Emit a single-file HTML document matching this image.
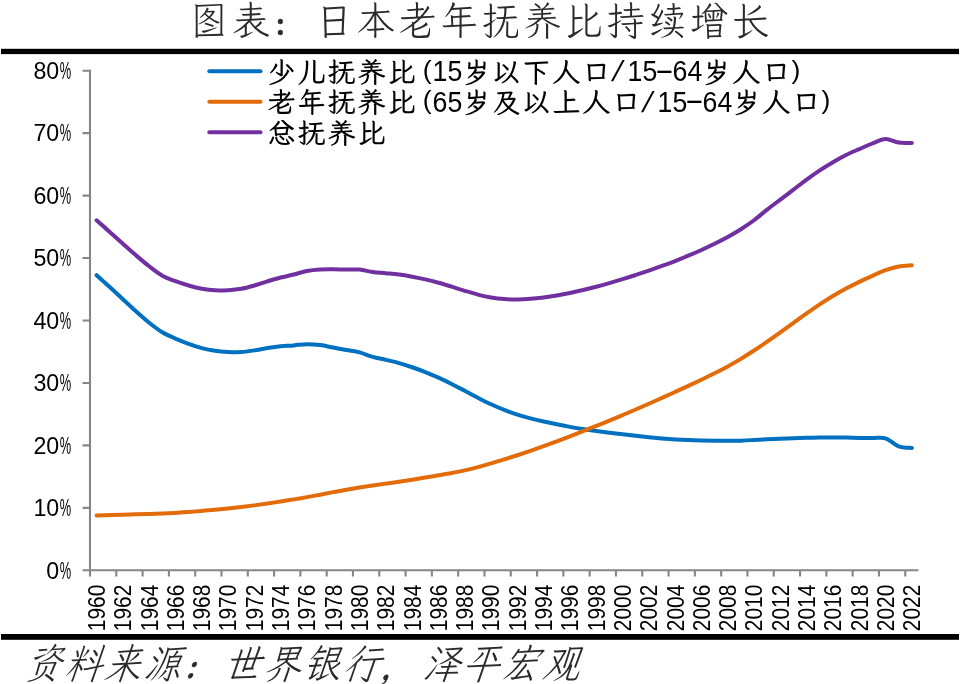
<!DOCTYPE html>
<html lang="zh-CN">
<head>
<meta charset="utf-8">
<title>图表：日本老年抚养比持续增长</title>
<style>
html,body{margin:0;padding:0;background:#fff;}
body{width:960px;height:684px;position:relative;overflow:hidden;font-family:"Liberation Sans","Noto Sans CJK SC",sans-serif;}
.kai{font-family:"Liberation Serif","LXGW WenKai TC","Noto Serif CJK SC",serif;}
.p{line-height:0;font-family:"Liberation Serif","Noto Serif CJK SC","Noto Sans CJK SC",serif;font-weight:700;position:relative;font-size:0.7em;-webkit-text-stroke:0.4px currentColor;}
#title .p{left:0px;top:1px;margin-right:11.4px;}
#src .p{left:0px;top:1px;margin-right:11.1px;}
#title{transform:scaleY(1.06);transform-origin:0 26.5px;position:absolute;left:190px;top:-6px;font-size:38px;letter-spacing:3.65px;line-height:54px;color:#2a2a2a;font-weight:300;white-space:nowrap;}
.leg{position:absolute;left:267.5px;height:31px;line-height:31px;font-size:28px;letter-spacing:2px;color:#000;white-space:nowrap;font-weight:600;}
.leg .h{top:-0.5px;font-weight:400;display:inline-block;width:15px;letter-spacing:0;text-align:center;font-family:"Liberation Sans",sans-serif;font-size:29px;line-height:31px;vertical-align:baseline;position:relative;transform:scaleX(0.92);}
.leg .lt{margin-left:-1px;margin-right:1px;letter-spacing:0;}
.leg .h.r{text-align:right;font-size:26.5px;top:-3px;transform:none;}
.leg .h.l{text-align:left;font-size:26.5px;top:-3px;transform:none;}
.leg .h.s{transform:skewX(-15deg);left:-1.5px;}
.leg .h.d{transform:scaleX(2);top:-2px;}
#l1{top:56.5px;}
#l2{top:87px;}
#l3{top:117.5px;}
#src{position:absolute;left:23px;top:642px;font-size:37px;letter-spacing:2.8px;line-height:48px;color:#2a2a2a;font-weight:300;white-space:nowrap;transform:skewX(-19deg) scaleY(1.12);transform-origin:0 38px;}
</style>
</head>
<body>
<div id="title" class="kai">图表<span class="p">：</span>日本老年抚养比持续增长</div>
<svg width="960" height="684" viewBox="0 0 960 684" style="position:absolute;left:0;top:0">
<rect x="1" y="48.8" width="958" height="5.3" fill="#000"/>
<rect x="1" y="634" width="958" height="5.8" fill="#000"/>
<g stroke="#868686" stroke-width="2.1" fill="none">
<path d="M90.00 69.80 V576.50"/>
<path d="M82.50 570.30 H918.40"/>
<path d="M82.50 507.85 H90.00M82.50 445.40 H90.00M82.50 382.95 H90.00M82.50 320.50 H90.00M82.50 258.05 H90.00M82.50 195.60 H90.00M82.50 133.15 H90.00M82.50 70.70 H90.00M116.30 570.30 V576.50M142.60 570.30 V576.50M168.90 570.30 V576.50M195.19 570.30 V576.50M221.49 570.30 V576.50M247.79 570.30 V576.50M274.09 570.30 V576.50M300.39 570.30 V576.50M326.69 570.30 V576.50M352.98 570.30 V576.50M379.28 570.30 V576.50M405.58 570.30 V576.50M431.88 570.30 V576.50M458.18 570.30 V576.50M484.48 570.30 V576.50M510.77 570.30 V576.50M537.07 570.30 V576.50M563.37 570.30 V576.50M589.67 570.30 V576.50M615.97 570.30 V576.50M642.27 570.30 V576.50M668.57 570.30 V576.50M694.86 570.30 V576.50M721.16 570.30 V576.50M747.46 570.30 V576.50M773.76 570.30 V576.50M800.06 570.30 V576.50M826.36 570.30 V576.50M852.65 570.30 V576.50M878.95 570.30 V576.50M905.25 570.30 V576.50"/>
</g>
<g font-family="'Liberation Sans', sans-serif" font-size="23.2" fill="#000">
<text x="59.2" y="578.60" text-anchor="end">0</text>
<text x="59.8" y="578.60" textLength="11.4" lengthAdjust="spacingAndGlyphs">%</text>
<text x="59.2" y="516.15" text-anchor="end">10</text>
<text x="59.8" y="516.15" textLength="11.4" lengthAdjust="spacingAndGlyphs">%</text>
<text x="59.2" y="453.70" text-anchor="end">20</text>
<text x="59.8" y="453.70" textLength="11.4" lengthAdjust="spacingAndGlyphs">%</text>
<text x="59.2" y="391.25" text-anchor="end">30</text>
<text x="59.8" y="391.25" textLength="11.4" lengthAdjust="spacingAndGlyphs">%</text>
<text x="59.2" y="328.80" text-anchor="end">40</text>
<text x="59.8" y="328.80" textLength="11.4" lengthAdjust="spacingAndGlyphs">%</text>
<text x="59.2" y="266.35" text-anchor="end">50</text>
<text x="59.8" y="266.35" textLength="11.4" lengthAdjust="spacingAndGlyphs">%</text>
<text x="59.2" y="203.90" text-anchor="end">60</text>
<text x="59.8" y="203.90" textLength="11.4" lengthAdjust="spacingAndGlyphs">%</text>
<text x="59.2" y="141.45" text-anchor="end">70</text>
<text x="59.8" y="141.45" textLength="11.4" lengthAdjust="spacingAndGlyphs">%</text>
<text x="59.2" y="79.00" text-anchor="end">80</text>
<text x="59.8" y="79.00" textLength="11.4" lengthAdjust="spacingAndGlyphs">%</text>
</g>
<g font-family="'Liberation Sans', sans-serif" font-size="23.2" fill="#000">
<text transform="translate(104.97 584.6) rotate(-90)" text-anchor="end" textLength="46.6" lengthAdjust="spacingAndGlyphs">1960</text>
<text transform="translate(131.27 584.6) rotate(-90)" text-anchor="end" textLength="46.6" lengthAdjust="spacingAndGlyphs">1962</text>
<text transform="translate(157.57 584.6) rotate(-90)" text-anchor="end" textLength="46.6" lengthAdjust="spacingAndGlyphs">1964</text>
<text transform="translate(183.87 584.6) rotate(-90)" text-anchor="end" textLength="46.6" lengthAdjust="spacingAndGlyphs">1966</text>
<text transform="translate(210.17 584.6) rotate(-90)" text-anchor="end" textLength="46.6" lengthAdjust="spacingAndGlyphs">1968</text>
<text transform="translate(236.47 584.6) rotate(-90)" text-anchor="end" textLength="46.6" lengthAdjust="spacingAndGlyphs">1970</text>
<text transform="translate(262.77 584.6) rotate(-90)" text-anchor="end" textLength="46.6" lengthAdjust="spacingAndGlyphs">1972</text>
<text transform="translate(289.06 584.6) rotate(-90)" text-anchor="end" textLength="46.6" lengthAdjust="spacingAndGlyphs">1974</text>
<text transform="translate(315.36 584.6) rotate(-90)" text-anchor="end" textLength="46.6" lengthAdjust="spacingAndGlyphs">1976</text>
<text transform="translate(341.66 584.6) rotate(-90)" text-anchor="end" textLength="46.6" lengthAdjust="spacingAndGlyphs">1978</text>
<text transform="translate(367.96 584.6) rotate(-90)" text-anchor="end" textLength="46.6" lengthAdjust="spacingAndGlyphs">1980</text>
<text transform="translate(394.26 584.6) rotate(-90)" text-anchor="end" textLength="46.6" lengthAdjust="spacingAndGlyphs">1982</text>
<text transform="translate(420.56 584.6) rotate(-90)" text-anchor="end" textLength="46.6" lengthAdjust="spacingAndGlyphs">1984</text>
<text transform="translate(446.85 584.6) rotate(-90)" text-anchor="end" textLength="46.6" lengthAdjust="spacingAndGlyphs">1986</text>
<text transform="translate(473.15 584.6) rotate(-90)" text-anchor="end" textLength="46.6" lengthAdjust="spacingAndGlyphs">1988</text>
<text transform="translate(499.45 584.6) rotate(-90)" text-anchor="end" textLength="46.6" lengthAdjust="spacingAndGlyphs">1990</text>
<text transform="translate(525.75 584.6) rotate(-90)" text-anchor="end" textLength="46.6" lengthAdjust="spacingAndGlyphs">1992</text>
<text transform="translate(552.05 584.6) rotate(-90)" text-anchor="end" textLength="46.6" lengthAdjust="spacingAndGlyphs">1994</text>
<text transform="translate(578.35 584.6) rotate(-90)" text-anchor="end" textLength="46.6" lengthAdjust="spacingAndGlyphs">1996</text>
<text transform="translate(604.64 584.6) rotate(-90)" text-anchor="end" textLength="46.6" lengthAdjust="spacingAndGlyphs">1998</text>
<text transform="translate(630.94 584.6) rotate(-90)" text-anchor="end" textLength="46.6" lengthAdjust="spacingAndGlyphs">2000</text>
<text transform="translate(657.24 584.6) rotate(-90)" text-anchor="end" textLength="46.6" lengthAdjust="spacingAndGlyphs">2002</text>
<text transform="translate(683.54 584.6) rotate(-90)" text-anchor="end" textLength="46.6" lengthAdjust="spacingAndGlyphs">2004</text>
<text transform="translate(709.84 584.6) rotate(-90)" text-anchor="end" textLength="46.6" lengthAdjust="spacingAndGlyphs">2006</text>
<text transform="translate(736.14 584.6) rotate(-90)" text-anchor="end" textLength="46.6" lengthAdjust="spacingAndGlyphs">2008</text>
<text transform="translate(762.43 584.6) rotate(-90)" text-anchor="end" textLength="46.6" lengthAdjust="spacingAndGlyphs">2010</text>
<text transform="translate(788.73 584.6) rotate(-90)" text-anchor="end" textLength="46.6" lengthAdjust="spacingAndGlyphs">2012</text>
<text transform="translate(815.03 584.6) rotate(-90)" text-anchor="end" textLength="46.6" lengthAdjust="spacingAndGlyphs">2014</text>
<text transform="translate(841.33 584.6) rotate(-90)" text-anchor="end" textLength="46.6" lengthAdjust="spacingAndGlyphs">2016</text>
<text transform="translate(867.63 584.6) rotate(-90)" text-anchor="end" textLength="46.6" lengthAdjust="spacingAndGlyphs">2018</text>
<text transform="translate(893.93 584.6) rotate(-90)" text-anchor="end" textLength="46.6" lengthAdjust="spacingAndGlyphs">2020</text>
<text transform="translate(920.23 584.6) rotate(-90)" text-anchor="end" textLength="46.6" lengthAdjust="spacingAndGlyphs">2022</text>
</g>
<g fill="none" stroke-width="4" stroke-linecap="round" stroke-linejoin="round">
<path stroke="#0070C0" d="M96.57 275.18 C98.77 277.17 105.34 283.09 109.72 287.10 C114.11 291.11 118.49 295.19 122.87 299.23 C127.26 303.27 131.64 307.44 136.02 311.35 C140.41 315.26 144.79 319.21 149.17 322.71 C153.55 326.20 157.94 329.67 162.32 332.31 C166.70 334.96 171.09 336.65 175.47 338.58 C179.85 340.50 184.24 342.27 188.62 343.86 C193.00 345.45 197.39 346.97 201.77 348.12 C206.15 349.28 210.53 350.16 214.92 350.79 C219.30 351.43 223.68 351.72 228.07 351.92 C232.45 352.13 236.83 352.30 241.22 352.04 C245.60 351.78 249.98 351.04 254.37 350.37 C258.75 349.71 263.13 348.74 267.51 348.07 C271.90 347.40 276.28 346.77 280.66 346.33 C285.05 345.89 289.43 345.78 293.81 345.41 C298.20 345.05 302.58 344.21 306.96 344.15 C311.34 344.08 315.73 344.47 320.11 345.03 C324.49 345.59 328.88 346.67 333.26 347.51 C337.64 348.35 342.03 349.24 346.41 350.06 C350.79 350.88 355.18 351.29 359.56 352.43 C363.94 353.57 368.32 355.65 372.71 356.90 C377.09 358.14 381.47 358.86 385.86 359.89 C390.24 360.92 394.62 361.85 399.01 363.08 C403.39 364.31 407.77 365.76 412.16 367.26 C416.54 368.76 420.92 370.35 425.30 372.08 C429.69 373.82 434.07 375.71 438.45 377.69 C442.84 379.67 447.22 381.79 451.60 383.98 C455.99 386.16 460.37 388.49 464.75 390.78 C469.14 393.08 473.52 395.49 477.90 397.74 C482.28 399.99 486.67 402.26 491.05 404.30 C495.43 406.34 499.82 408.26 504.20 409.97 C508.58 411.69 512.97 413.19 517.35 414.58 C521.73 415.97 526.12 417.17 530.50 418.33 C534.88 419.48 539.26 420.51 543.65 421.51 C548.03 422.51 552.41 423.43 556.80 424.32 C561.18 425.22 565.56 426.06 569.95 426.86 C574.33 427.66 578.71 428.41 583.10 429.10 C587.48 429.80 591.86 430.43 596.24 431.03 C600.63 431.64 605.01 432.20 609.39 432.75 C613.78 433.30 618.16 433.83 622.54 434.33 C626.93 434.84 631.31 435.32 635.69 435.79 C640.08 436.26 644.46 436.73 648.84 437.17 C653.22 437.60 657.61 438.03 661.99 438.41 C666.37 438.78 670.76 439.12 675.14 439.40 C679.52 439.69 683.91 439.91 688.29 440.10 C692.67 440.29 697.06 440.42 701.44 440.53 C705.82 440.64 710.20 440.71 714.59 440.77 C718.97 440.83 723.35 440.88 727.74 440.86 C732.12 440.84 736.50 440.79 740.89 440.64 C745.27 440.50 749.65 440.23 754.03 439.99 C758.42 439.76 762.80 439.46 767.18 439.23 C771.57 439.01 775.95 438.83 780.33 438.65 C784.72 438.48 789.10 438.34 793.48 438.20 C797.87 438.06 802.25 437.93 806.63 437.82 C811.01 437.71 815.40 437.59 819.78 437.53 C824.16 437.46 828.55 437.41 832.93 437.40 C837.31 437.40 841.70 437.44 846.08 437.52 C850.46 437.60 854.85 437.80 859.23 437.88 C863.61 437.96 867.99 437.93 872.38 438.00 C876.76 438.07 881.14 436.91 885.53 438.30 C889.91 439.69 894.29 444.70 898.68 446.32 C903.06 447.93 909.63 447.72 911.83 448.00"/>
<path stroke="#E36C0A" d="M96.57 515.43 C98.77 515.38 105.34 515.21 109.72 515.10 C114.11 514.98 118.49 514.85 122.87 514.72 C127.26 514.59 131.64 514.44 136.02 514.31 C140.41 514.18 144.79 514.07 149.17 513.94 C153.55 513.81 157.94 513.72 162.32 513.55 C166.70 513.37 171.09 513.15 175.47 512.88 C179.85 512.61 184.24 512.27 188.62 511.94 C193.00 511.61 197.39 511.26 201.77 510.90 C206.15 510.54 210.53 510.19 214.92 509.78 C219.30 509.38 223.68 508.95 228.07 508.48 C232.45 508.02 236.83 507.52 241.22 507.00 C245.60 506.48 249.98 505.94 254.37 505.36 C258.75 504.77 263.13 504.16 267.51 503.52 C271.90 502.88 276.28 502.20 280.66 501.51 C285.05 500.82 289.43 500.11 293.81 499.38 C298.20 498.64 302.58 497.89 306.96 497.10 C311.34 496.32 315.73 495.48 320.11 494.66 C324.49 493.83 328.88 492.96 333.26 492.15 C337.64 491.33 342.03 490.53 346.41 489.76 C350.79 488.99 355.18 488.25 359.56 487.55 C363.94 486.84 368.32 486.16 372.71 485.51 C377.09 484.85 381.47 484.25 385.86 483.62 C390.24 482.99 394.62 482.37 399.01 481.72 C403.39 481.07 407.77 480.40 412.16 479.70 C416.54 479.01 420.92 478.28 425.30 477.55 C429.69 476.82 434.07 476.08 438.45 475.31 C442.84 474.55 447.22 473.81 451.60 472.98 C455.99 472.15 460.37 471.30 464.75 470.33 C469.14 469.36 473.52 468.30 477.90 467.15 C482.28 466.00 486.67 464.73 491.05 463.44 C495.43 462.15 499.82 460.78 504.20 459.41 C508.58 458.04 512.97 456.65 517.35 455.22 C521.73 453.79 526.12 452.33 530.50 450.83 C534.88 449.33 539.26 447.79 543.65 446.22 C548.03 444.65 552.41 443.06 556.80 441.42 C561.18 439.79 565.56 438.11 569.95 436.41 C574.33 434.71 578.71 432.96 583.10 431.22 C587.48 429.48 591.86 427.73 596.24 425.96 C600.63 424.19 605.01 422.42 609.39 420.62 C613.78 418.81 618.16 416.99 622.54 415.14 C626.93 413.29 631.31 411.42 635.69 409.52 C640.08 407.62 644.46 405.69 648.84 403.75 C653.22 401.81 657.61 399.85 661.99 397.88 C666.37 395.92 670.76 393.94 675.14 391.94 C679.52 389.95 683.91 387.94 688.29 385.91 C692.67 383.88 697.06 381.84 701.44 379.74 C705.82 377.64 710.20 375.53 714.59 373.31 C718.97 371.09 723.35 368.84 727.74 366.43 C732.12 364.03 736.50 361.52 740.89 358.87 C745.27 356.22 749.65 353.41 754.03 350.54 C758.42 347.66 762.80 344.66 767.18 341.63 C771.57 338.60 775.95 335.51 780.33 332.37 C784.72 329.24 789.10 326.02 793.48 322.85 C797.87 319.67 802.25 316.44 806.63 313.35 C811.01 310.26 815.40 307.19 819.78 304.31 C824.16 301.42 828.55 298.66 832.93 296.04 C837.31 293.41 841.70 290.94 846.08 288.58 C850.46 286.21 854.85 283.98 859.23 281.85 C863.61 279.72 867.99 277.75 872.38 275.80 C876.76 273.85 881.14 271.72 885.53 270.15 C889.91 268.59 894.29 267.23 898.68 266.42 C903.06 265.61 909.63 265.49 911.83 265.30"/>
<path stroke="#7030A0" d="M96.57 220.32 C98.77 222.25 105.34 228.01 109.72 231.90 C114.11 235.79 118.49 239.76 122.87 243.67 C127.26 247.58 131.64 251.58 136.02 255.35 C140.41 259.12 144.79 262.90 149.17 266.29 C153.55 269.68 157.94 273.20 162.32 275.69 C166.70 278.18 171.09 279.58 175.47 281.22 C179.85 282.86 184.24 284.26 188.62 285.51 C193.00 286.76 197.39 287.92 201.77 288.73 C206.15 289.53 210.53 290.11 214.92 290.34 C219.30 290.58 223.68 290.41 228.07 290.15 C232.45 289.89 236.83 289.55 241.22 288.78 C245.60 288.00 249.98 286.73 254.37 285.49 C258.75 284.25 263.13 282.66 267.51 281.33 C271.90 280.01 276.28 278.69 280.66 277.56 C285.05 276.42 289.43 275.64 293.81 274.54 C298.20 273.44 302.58 271.82 306.96 270.97 C311.34 270.13 315.73 269.74 320.11 269.46 C324.49 269.17 328.88 269.25 333.26 269.26 C337.64 269.27 342.03 269.46 346.41 269.52 C350.79 269.58 355.18 269.19 359.56 269.61 C363.94 270.04 368.32 271.46 372.71 272.06 C377.09 272.66 381.47 272.81 385.86 273.22 C390.24 273.63 394.62 273.95 399.01 274.53 C403.39 275.10 407.77 275.86 412.16 276.66 C416.54 277.47 420.92 278.33 425.30 279.34 C429.69 280.34 434.07 281.48 438.45 282.70 C442.84 283.92 447.22 285.30 451.60 286.65 C455.99 288.01 460.37 289.49 464.75 290.82 C469.14 292.14 473.52 293.48 477.90 294.59 C482.28 295.69 486.67 296.69 491.05 297.44 C495.43 298.19 499.82 298.74 504.20 299.09 C508.58 299.43 512.97 299.54 517.35 299.50 C521.73 299.46 526.12 299.20 530.50 298.85 C534.88 298.51 539.26 298.00 543.65 297.43 C548.03 296.86 552.41 296.19 556.80 295.44 C561.18 294.70 565.56 293.87 569.95 292.97 C574.33 292.06 578.71 291.07 583.10 290.02 C587.48 288.98 591.86 287.86 596.24 286.70 C600.63 285.54 605.01 284.32 609.39 283.07 C613.78 281.82 618.16 280.51 622.54 279.17 C626.93 277.83 631.31 276.43 635.69 275.01 C640.08 273.58 644.46 272.12 648.84 270.62 C653.22 269.12 657.61 267.59 661.99 265.99 C666.37 264.40 670.76 262.76 675.14 261.05 C679.52 259.33 683.91 257.56 688.29 255.71 C692.67 253.86 697.06 251.95 701.44 249.96 C705.82 247.98 710.20 245.94 714.59 243.78 C718.97 241.62 723.35 239.42 727.74 237.00 C732.12 234.57 736.50 232.01 740.89 229.21 C745.27 226.42 749.65 223.50 754.03 220.23 C758.42 216.96 762.80 213.04 767.18 209.60 C771.57 206.16 775.95 202.92 780.33 199.60 C784.72 196.28 789.10 193.03 793.48 189.70 C797.87 186.37 802.25 182.82 806.63 179.60 C811.01 176.38 815.40 173.30 819.78 170.40 C824.16 167.50 828.55 164.77 832.93 162.20 C837.31 159.63 841.70 157.18 846.08 155.00 C850.46 152.82 854.85 151.02 859.23 149.10 C863.61 147.18 867.99 145.18 872.38 143.50 C876.76 141.82 881.14 139.15 885.53 139.00 C889.91 138.85 894.29 141.95 898.68 142.60 C903.06 143.25 909.63 142.85 911.83 142.90"/>
<path stroke="#0070C0" d="M209.3 71.2H260.5"/>
<path stroke="#E36C0A" d="M209.3 101.8H260.5"/>
<path stroke="#7030A0" d="M209.3 132.3H260.5"/>
</g>
</svg>
<div id="l1" class="leg kai">少儿抚养比<span class="lt"><span class="h r">(</span><span class="h">1</span><span class="h">5</span></span>岁以下人口<span class="lt"><span class="h s">/</span><span class="h">1</span><span class="h">5</span><span class="h d">-</span><span class="h">6</span><span class="h">4</span></span>岁人口<span class="lt"><span class="h l">)</span></span></div>
<div id="l2" class="leg kai">老年抚养比<span class="lt"><span class="h r">(</span><span class="h">6</span><span class="h">5</span></span>岁及以上人口<span class="lt"><span class="h s">/</span><span class="h">1</span><span class="h">5</span><span class="h d">-</span><span class="h">6</span><span class="h">4</span></span>岁人口<span class="lt"><span class="h l">)</span></span></div>
<div id="l3" class="leg kai">总抚养比</div>
<div id="src" class="kai">资料来源<span class="p">：</span>世界银行<span class="p">，</span>泽平宏观</div>
</body>
</html>
